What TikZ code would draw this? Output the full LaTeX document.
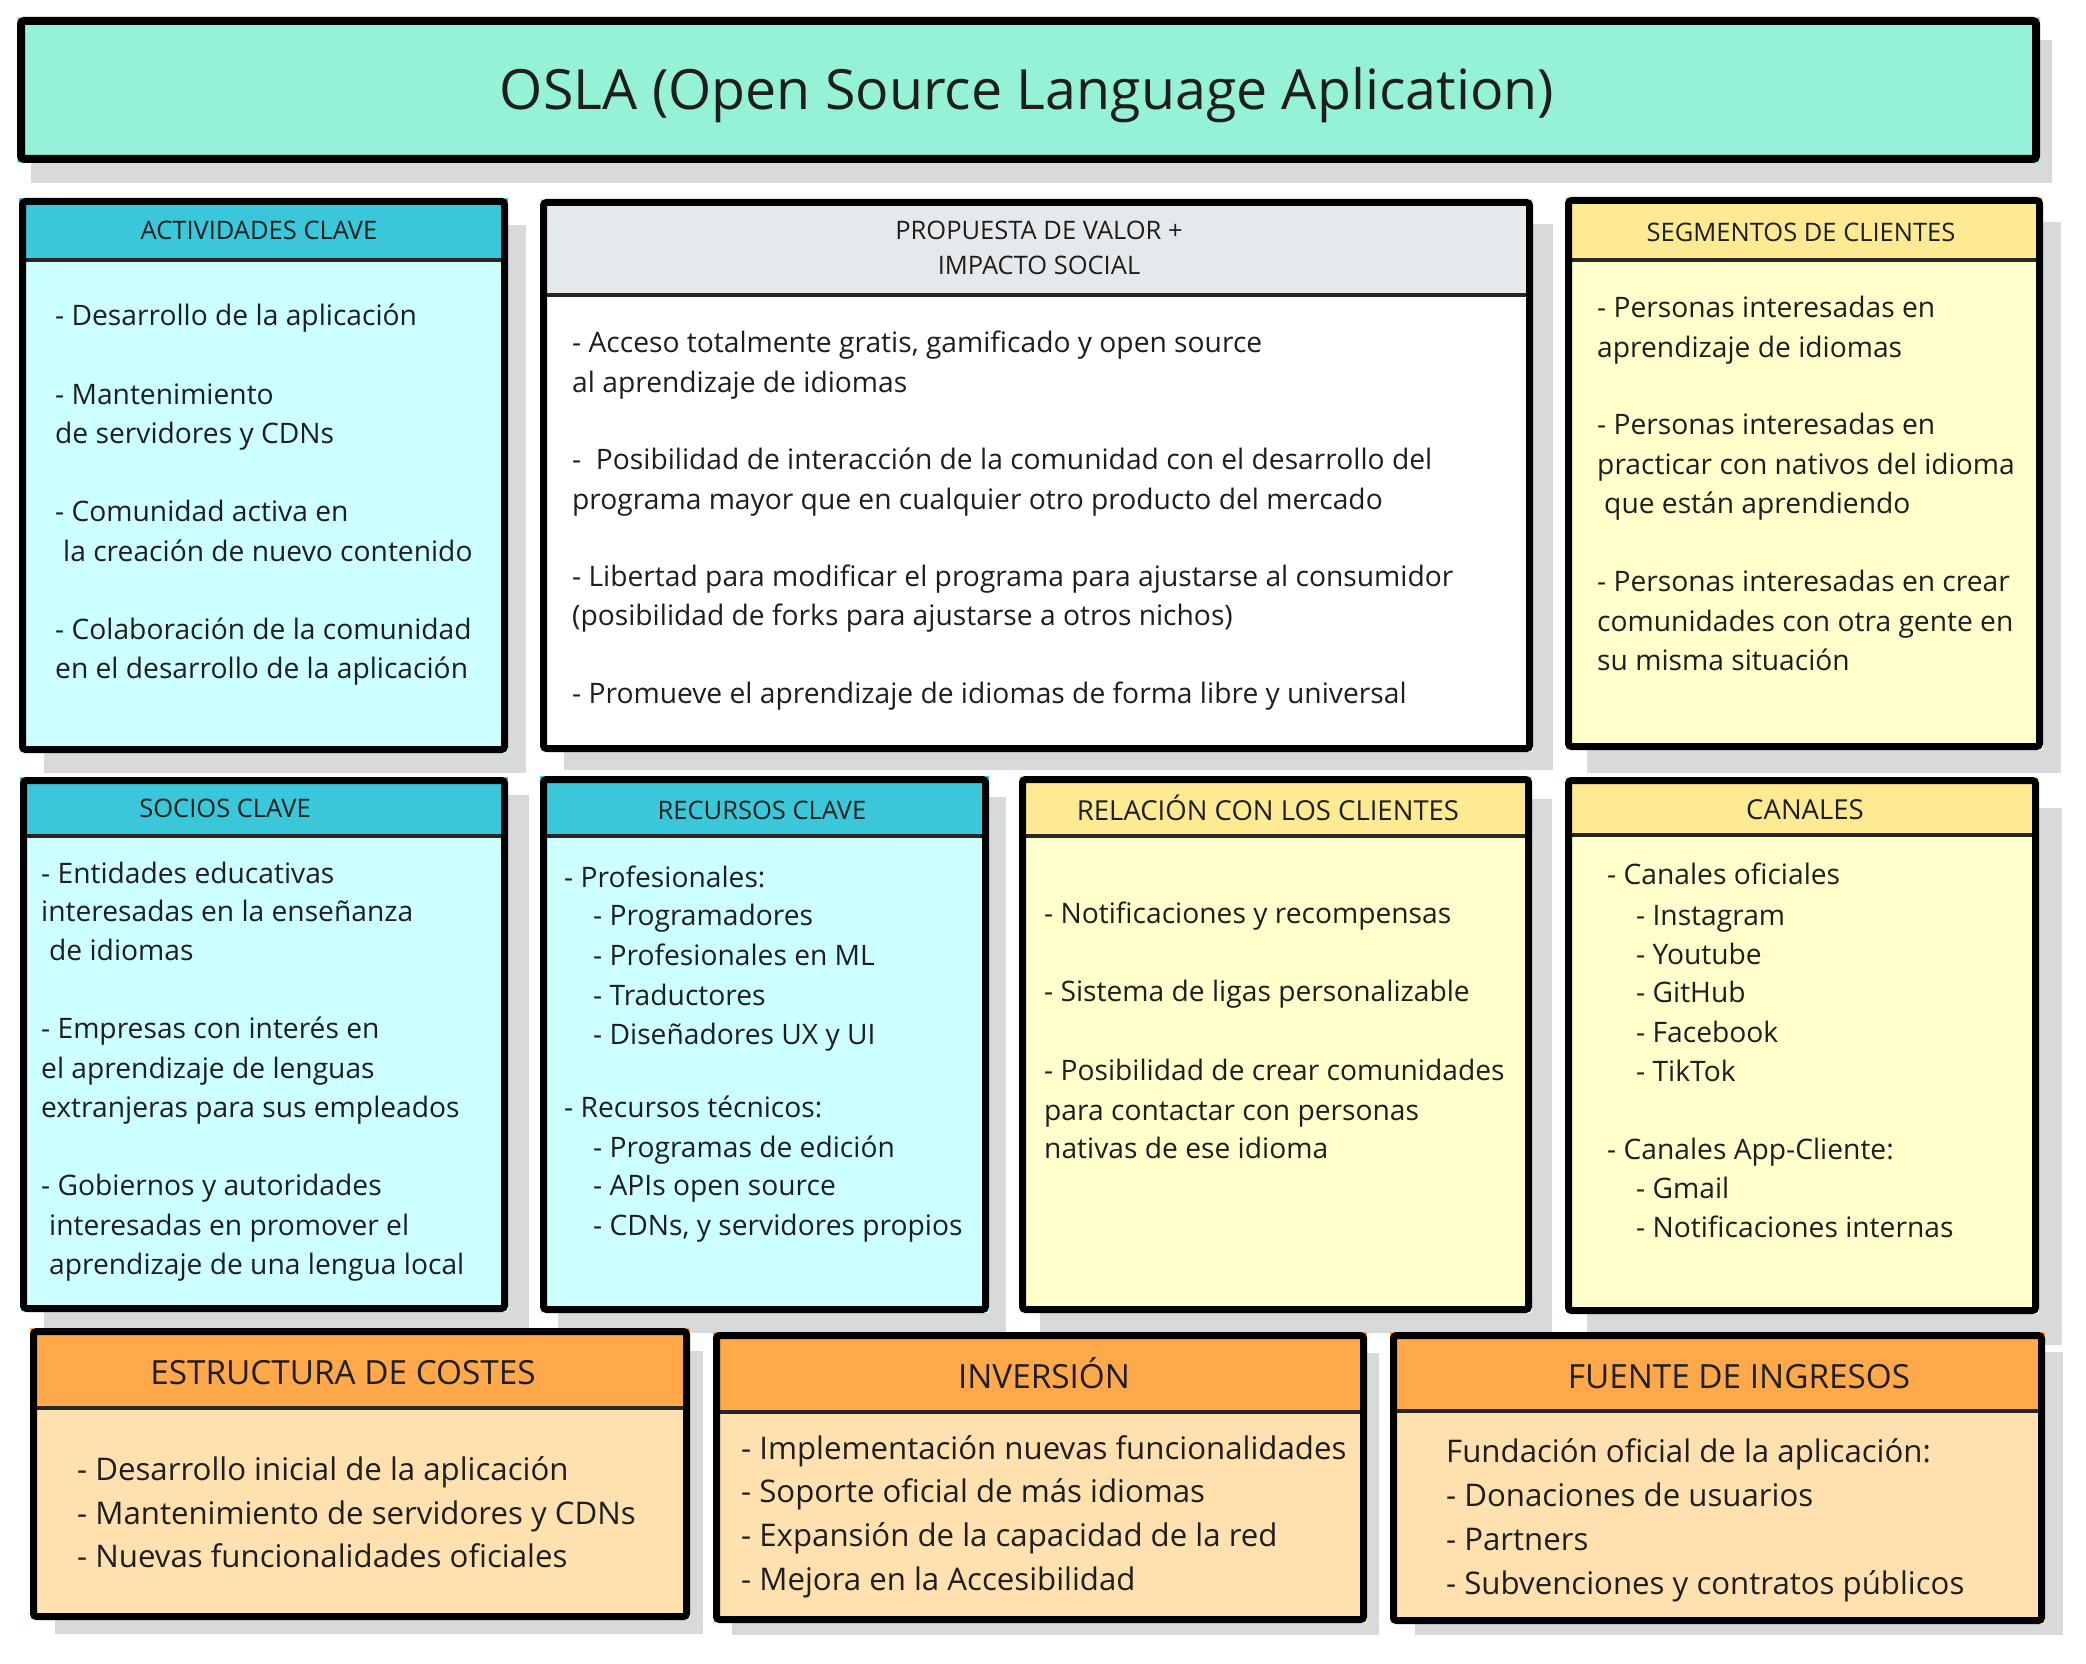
\documentclass[tikz,border=0pt]{standalone}
\usepackage{fontspec}
\setmainfont{Open Sans}
\definecolor{mint}{HTML}{96F2D7}
\definecolor{cyanhead}{HTML}{3BC7DA}
\definecolor{cyanbody}{HTML}{CCFFFF}
\definecolor{greyhead}{HTML}{E6E9EC}
\definecolor{yelhead}{HTML}{FFEA94}
\definecolor{yelbody}{HTML}{FFFFCC}
\definecolor{orahead}{HTML}{FFA94B}
\definecolor{orabody}{HTML}{FFE0AF}
\definecolor{shade}{HTML}{D8D9DA}
\definecolor{ink}{HTML}{1E1E1E}
\definecolor{rulegrey}{HTML}{262626}
\newcommand\titlesize{\fontsize{55.5}{60}\selectfont}
\newcommand\smallhead{\fontsize{25.5}{30}\selectfont}
\newcommand\midhead{\fontsize{27.5}{32}\selectfont}
\newcommand\bighead{\fontsize{33.3}{38}\selectfont}
\newcommand\bodysize{\fontsize{28.2}{34}\selectfont}
\newcommand\bigbody{\fontsize{31.2}{38}\selectfont}
% one block of the canvas: fill, header band, separator and frame
% #1 x1  #2 y1  #3 x2  #4 y2  #5 header bottom  #6 header colour  #7 body colour
\newcommand\canvasblock[7]{%
  \fill[#7] (#1,#2) rectangle (#3,#4);
  \fill[#6] (#1,#2) rectangle (#3,#5);
  \draw[sepline] (#1+4,#5) -- (#3-4,#5);
  \draw[frame] (#1+3.5,#2+3.5) rectangle (#3-3.5,#4-3.5);
}
\begin{document}
\begin{tikzpicture}[x=1pt,y=-1pt,
  frame/.style={draw=black,line width=7pt,rounded corners=3pt},
  sepline/.style={draw=rulegrey,line width=4pt},
  shadowrect/.style={fill=shade},
  headtext/.style={text=ink,inner sep=0pt,anchor=base},
  bodytext/.style={text=ink,inner sep=0pt,anchor=base west,yshift=-10pt,font=\bodysize},
  bigtext/.style={text=ink,inner sep=0pt,anchor=base west,yshift=-13pt,font=\bigbody}]
\useasboundingbox[fill=white] (0,0) rectangle (2086,1664);

% ---- shadows ----
\fill[shadowrect] (31,40) rectangle (2052,183);
\fill[shadowrect] (44,225) rectangle (526,773);
\fill[shadowrect] (564,224) rectangle (1553,770);
\fill[shadowrect] (1587,222) rectangle (2061,773);
\fill[shadowrect] (44,795) rectangle (529,1332);
\fill[shadowrect] (558,797) rectangle (1006,1333);
\fill[shadowrect] (1040,799) rectangle (1552,1333);
\fill[shadowrect] (1587,808) rectangle (2062,1345);
\fill[shadowrect] (55,1351) rectangle (703,1634);
\fill[shadowrect] (732,1353) rectangle (1379,1635);
\fill[shadowrect] (1415,1352) rectangle (2063,1635);

% ---- title ----
\fill[mint] (17,17) rectangle (2040,163);
\draw[black,line width=8pt,rounded corners=3pt] (21,21) rectangle (2036,159);
\node[headtext,font=\titlesize] (title) at (1027,110) {OSLA (Open Source Language Aplication)};

% ---- blocks ----
\canvasblock{19}{198}{508}{753}{260}{cyanhead}{cyanbody}
\canvasblock{540}{199}{1533}{752}{295}{greyhead}{white}
\canvasblock{1565}{197}{2043}{750}{260}{yelhead}{yelbody}
\canvasblock{20}{777}{508}{1312}{836}{cyanhead}{cyanbody}
\canvasblock{540}{776}{989}{1313}{836}{cyanhead}{cyanbody}
\canvasblock{1019}{776}{1532}{1313}{836}{yelhead}{yelbody}
\canvasblock{1565}{777}{2039}{1314}{835}{yelhead}{yelbody}
\canvasblock{30}{1328}{690}{1620}{1408}{orahead}{orabody}
\canvasblock{713}{1332}{1367}{1623}{1412}{orahead}{orabody}
\canvasblock{1390}{1332}{2045}{1624}{1411}{orahead}{orabody}

% ---- headers ----
\node[headtext,font=\smallhead] (hac) at (259,240) {ACTIVIDADES CLAVE};
\node[headtext,font=\smallhead] (hpv1) at (1039,240) {PROPUESTA DE VALOR +};
\node[headtext,font=\smallhead] (hpv2) at (1039,274) {IMPACTO SOCIAL};
\node[headtext,font=\smallhead] (hsc) at (1801,242) {SEGMENTOS DE CLIENTES};
\node[headtext,font=\smallhead] (hsoc) at (225,817) {SOCIOS CLAVE};
\node[headtext,font=\smallhead] (hrec) at (762,819) {RECURSOS CLAVE};
\node[headtext,font=\midhead] (hrel) at (1268,820) {RELACIÓN CON LOS CLIENTES};
\node[headtext,font=\midhead] (hcan) at (1805,819) {CANALES};
\node[headtext,font=\bighead] (hest) at (343,1384) {ESTRUCTURA DE COSTES};
\node[headtext,font=\bighead] (hinv) at (1044,1388) {INVERSIÓN};
\node[headtext,font=\bighead] (hfue) at (1739,1388) {FUENTE DE INGRESOS};

% ---- actividades clave ----
\node[bodytext] (ac1) at (55,315) {- Desarrollo de la aplicación};
\node[bodytext] (ac2) at (55,394) {- Mantenimiento};
\node[bodytext] (ac3) at (55,433) {de servidores y CDNs};
\node[bodytext] (ac4) at (55,511) {- Comunidad activa en};
\node[bodytext] (ac5) at (63,551) {la creación de nuevo contenido};
\node[bodytext] (ac6) at (55,629) {- Colaboración de la comunidad};
\node[bodytext] (ac7) at (55,668) {en el desarrollo de la aplicación};

% ---- propuesta de valor ----
\node[bodytext] (pv1) at (572,342) {- Acceso totalmente gratis, gamificado y open source};
\node[bodytext] (pv2) at (572,382) {al aprendizaje de idiomas};
\node[bodytext] (pv3) at (572,459) {-\ \ Posibilidad de interacción de la comunidad con el desarrollo del};
\node[bodytext] (pv4) at (572,499) {programa mayor que en cualquier otro producto del mercado};
\node[bodytext] (pv5) at (572,576) {- Libertad para modificar el programa para ajustarse al consumidor};
\node[bodytext] (pv6) at (572,615) {(posibilidad de forks para ajustarse a otros nichos)};
\node[bodytext] (pv7) at (572,693) {- Promueve el aprendizaje de idiomas de forma libre y universal};

% ---- segmentos de clientes ----
\node[bodytext] (sc1) at (1597,307) {- Personas interesadas en};
\node[bodytext] (sc2) at (1597,347) {aprendizaje de idiomas};
\node[bodytext] (sc3) at (1597,424) {- Personas interesadas en};
\node[bodytext] (sc4) at (1597,464) {practicar con nativos del idioma};
\node[bodytext] (sc5) at (1604,503) {que están aprendiendo};
\node[bodytext] (sc6) at (1597,581) {- Personas interesadas en crear};
\node[bodytext] (sc7) at (1597,621) {comunidades con otra gente en};
\node[bodytext] (sc8) at (1597,660) {su misma situación};

% ---- socios clave ----
\node[bodytext] (so1) at (41,873) {- Entidades educativas};
\node[bodytext] (so2) at (41,911) {interesadas en la enseñanza};
\node[bodytext] (so3) at (49,950) {de idiomas};
\node[bodytext] (so4) at (41,1028) {- Empresas con interés en};
\node[bodytext] (so5) at (41,1068) {el aprendizaje de lenguas};
\node[bodytext] (so6) at (41,1107) {extranjeras para sus empleados};
\node[bodytext] (so7) at (41,1185) {- Gobiernos y autoridades};
\node[bodytext] (so8) at (49,1225) {interesadas en promover el};
\node[bodytext] (so9) at (49,1264) {aprendizaje de una lengua local};

% ---- recursos clave ----
\node[bodytext] (rc1) at (564,877) {- Profesionales:};
\node[bodytext] (rc2) at (593,915) {- Programadores};
\node[bodytext] (rc3) at (593,955) {- Profesionales en ML};
\node[bodytext] (rc4) at (593,995) {- Traductores};
\node[bodytext] (rc5) at (593,1034) {- Diseñadores UX y UI};
\node[bodytext] (rc6) at (564,1107) {- Recursos técnicos:};
\node[bodytext] (rc7) at (593,1147) {- Programas de edición};
\node[bodytext] (rc8) at (593,1185) {- APIs open source};
\node[bodytext] (rc9) at (593,1225) {- CDNs, y servidores propios};

% ---- relación con los clientes ----
\node[bodytext] (rl1) at (1044,913) {- Notificaciones y recompensas};
\node[bodytext] (rl2) at (1044,991) {- Sistema de ligas personalizable};
\node[bodytext] (rl3) at (1044,1070) {- Posibilidad de crear comunidades};
\node[bodytext] (rl4) at (1044,1110) {para contactar con personas};
\node[bodytext] (rl5) at (1044,1148) {nativas de ese idioma};

% ---- canales ----
\node[bodytext] (cn1) at (1607,874) {- Canales oficiales};
\node[bodytext] (cn2) at (1636,915) {- Instagram};
\node[bodytext] (cn3) at (1636,954) {- Youtube};
\node[bodytext] (cn4) at (1636,992) {- GitHub};
\node[bodytext] (cn5) at (1636,1032) {- Facebook};
\node[bodytext] (cn6) at (1636,1071) {- TikTok};
\node[bodytext] (cn7) at (1607,1149) {- Canales App-Cliente:};
\node[bodytext] (cn8) at (1636,1188) {- Gmail};
\node[bodytext] (cn9) at (1636,1227) {- Notificaciones internas};

% ---- estructura de costes ----
\node[bigtext] (es1) at (77,1467) {- Desarrollo inicial de la aplicación};
\node[bigtext] (es2) at (77,1511) {- Mantenimiento de servidores y CDNs};
\node[bigtext] (es3) at (77,1554) {- Nuevas funcionalidades oficiales};

% ---- inversión ----
\node[bigtext] (in1) at (741,1446) {- Implementación nuevas funcionalidades};
\node[bigtext] (in2) at (741,1489) {- Soporte oficial de más idiomas};
\node[bigtext] (in3) at (741,1533) {- Expansión de la capacidad de la red};
\node[bigtext] (in4) at (741,1577) {- Mejora en la Accesibilidad};

% ---- fuente de ingresos ----
\node[bigtext] (fu1) at (1446,1449) {Fundación oficial de la aplicación:};
\node[bigtext] (fu2) at (1446,1493) {- Donaciones de usuarios};
\node[bigtext] (fu3) at (1446,1537) {- Partners};
\node[bigtext] (fu4) at (1446,1581) {- Subvenciones y contratos públicos};
\end{tikzpicture}
\end{document}
